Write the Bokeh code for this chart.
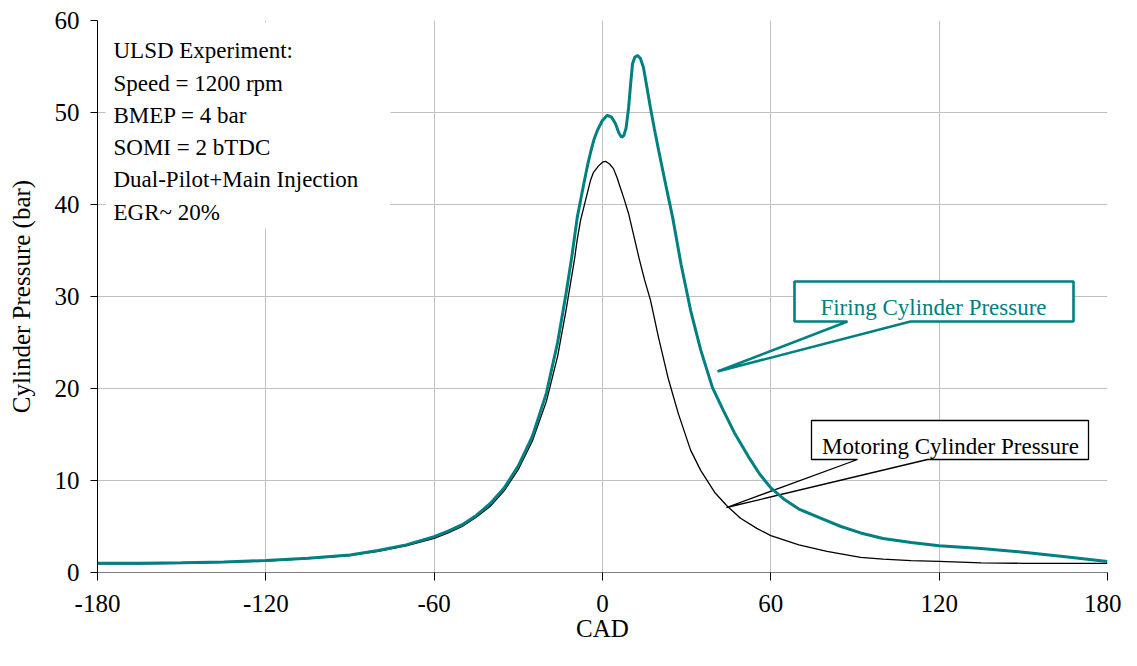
from bokeh.plotting import figure
from bokeh.models import Range1d, FixedTicker, Label
from bokeh.embed import file_html
from bokeh.resources import INLINE

# ---------------- data ----------------
firing_cad = [-180, -165, -150, -135, -120, -105, -90, -80, -70, -60, -55, -50, -45, -40,
              -35, -30, -25, -20, -16, -13, -11, -9, -6.7, -5.3, -4.3, -3.1, -1.9, -0.1,
              1.7, 3.2, 4.6, 5.8, 6.8, 7.6, 8.4, 9.3, 10.0, 10.7, 11.5, 12.5, 13.5, 14.6,
              15.8, 17.1, 18.5, 20, 22.5, 25, 28, 31.4, 35, 39.2, 43.1, 47, 52, 56, 60, 65,
              70, 77.7, 85, 92, 100, 110, 120, 135, 150, 165, 180]
firing_p = [1.0, 1.0, 1.05, 1.15, 1.3, 1.55, 1.9, 2.4, 3.0, 3.9, 4.5, 5.2, 6.2, 7.5,
            9.2, 11.6, 14.8, 19.5, 25.0, 30.3, 34.2, 38.6, 42.2, 44.3, 45.6, 47.0, 48.0, 49.1,
            49.7, 49.5, 48.8, 47.8, 47.3, 47.5, 48.3, 50.5, 53.0, 55.3, 56.0, 56.2, 55.9, 54.9,
            52.8, 50.5, 48.2, 45.9, 42.2, 38.6, 33.5, 28.5, 24.2, 20.1, 17.6, 15.2, 12.6, 10.7, 9.2, 7.9,
            6.9, 5.9, 5.0, 4.3, 3.7, 3.25, 2.9, 2.6, 2.2, 1.7, 1.2]

motoring_cad = [-180, -165, -150, -135, -120, -105, -90, -80, -70, -60, -55, -50, -45, -40,
                -35, -30, -25, -20, -16, -13, -10, -9, -7.8, -6.1, -4.3, -3.2, -1.4, 0, 1.1, 2.5,
                3.9, 5.2, 6.4, 7.8, 9.3, 11, 13, 15, 17.1, 20, 23.5, 27, 31.4, 35, 40, 44.5,
                49.2, 55, 60, 70, 80, 92, 100, 110, 120, 135, 150, 165, 180]
motoring_p = [0.95, 0.95, 1.0, 1.1, 1.25, 1.5, 1.85, 2.3, 2.9, 3.7, 4.3, 5.0, 6.0, 7.2,
              8.9, 11.2, 14.3, 18.6, 23.5, 28.5, 34.0, 36.2, 38.3, 40.4, 42.6, 43.5, 44.2, 44.6, 44.7, 44.4,
              43.9, 42.9, 41.8, 40.5, 39.0, 36.8, 34.2, 31.8, 29.6, 25.5, 21.0, 17.3, 13.3, 11.1, 8.7, 7.2,
              5.9, 4.8, 4.0, 3.0, 2.3, 1.65, 1.45, 1.3, 1.2, 1.05, 1.0, 1.0, 1.0]

x_ticks = [-180, -120, -60, 0, 60, 120, 180]
x_tick_labels = ["-180", "-120", "-60", "0", "60", "120", "180"]
y_ticks = [0, 10, 20, 30, 40, 50, 60]

info_lines = ["ULSD Experiment:", "Speed = 1200 rpm", "BMEP = 4 bar", "SOMI = 2 bTDC",
              "Dual-Pilot+Main Injection", "EGR~ 20%"]
firing_label = "Firing Cylinder Pressure"
motoring_label = "Motoring Cylinder Pressure"
x_title = "CAD"
y_title = "Cylinder Pressure (bar)"

# ---------------- style ----------------
FONT = "Liberation Serif"
TEAL = "#008080"
GRID = "#c0c0c0"
W, H = 1121, 650

# frame geometry in canvas pixels
FL, FR, FT, FB = 97, 1107, 20, 572


def dx(px):
    return -180 + (px - FL) * 360.0 / (FR - FL)


def dy(py):
    return (FB - py) * 60.0 / (FB - FT)


p = figure(width=W, height=H, x_range=Range1d(-180, 180), y_range=Range1d(0, 60),
           output_backend="svg", toolbar_location=None,
           min_border_left=FL, min_border_right=W - FR,
           min_border_top=FT, min_border_bottom=H - FB)
p.outline_line_color = None
p.background_fill_color = "white"
p.border_fill_color = "white"

p.xgrid.ticker = FixedTicker(ticks=x_ticks)
p.ygrid.ticker = FixedTicker(ticks=y_ticks)
p.grid.grid_line_color = GRID
p.grid.grid_line_width = 1

p.xaxis.ticker = FixedTicker(ticks=x_ticks)
p.xaxis.major_label_overrides = {t: l for t, l in zip(x_ticks, x_tick_labels)}
p.yaxis.ticker = FixedTicker(ticks=y_ticks)
for ax in (p.xaxis, p.yaxis):
    ax.major_label_text_font = FONT
    ax.major_label_text_font_size = "25px"
    ax.major_label_text_color = "black"
    ax.minor_tick_line_color = None
    ax.major_tick_in = 0
    ax.major_tick_line_color = "black"
    ax.axis_label_text_font = FONT
    ax.axis_label_text_font_size = "25px"
    ax.axis_label_text_font_style = "normal"
    ax.axis_label_text_color = "black"
p.xaxis.axis_line_color = "#808080"
p.xaxis.major_tick_out = 8
p.xaxis.major_label_standoff = 14
p.xaxis.axis_label = x_title
p.xaxis.axis_label_standoff = 0
p.yaxis.axis_line_color = "black"
p.yaxis.major_tick_out = 7
p.yaxis.major_label_standoff = 11
p.yaxis.axis_label = y_title
p.yaxis.axis_label_standoff = 17

# info box (white, no border)
p.quad(left=dx(105), right=dx(390), top=dy(22), bottom=dy(228),
       fill_color="white", line_color=None)
for i, line in enumerate(info_lines):
    p.add_layout(Label(x=dx(113), y=dy(50.2 + 32.3 * i), text=line, text_font=FONT,
                       text_font_size="23px", text_color="black", text_baseline="alphabetic"))

# callouts
L, R, T, B = 794, 1073, 281, 321
p.patch([dx(v) for v in (L, R, R, 910, 717, 847, L)],
        [dy(v) for v in (T, T, B, B, 371, B, B)],
        fill_color="white", line_color=TEAL, line_width=2.6)
L2, R2, T2, B2 = 811, 1088, 420, 459
p.patch([dx(v) for v in (L2, R2, R2, 927, 726, 857, L2)],
        [dy(v) for v in (T2, T2, B2, B2, 507, B2, B2)],
        fill_color="white", line_color="black", line_width=1.3)

# curves
p.line(motoring_cad, motoring_p, line_color="black", line_width=1.3)
p.line(firing_cad, firing_p, line_color=TEAL, line_width=3)

p.add_layout(Label(x=dx(933), y=dy(307.3), text=firing_label, text_align="center",
                   text_font=FONT, text_font_size="23px", text_color=TEAL,
                   text_baseline="alphabetic"))
p.add_layout(Label(x=dx(950), y=dy(446), text=motoring_label, text_align="center",
                   text_font=FONT, text_font_size="23px", text_color="black",
                   text_baseline="alphabetic"))

open("out.html", "w").write(file_html(p, INLINE))
